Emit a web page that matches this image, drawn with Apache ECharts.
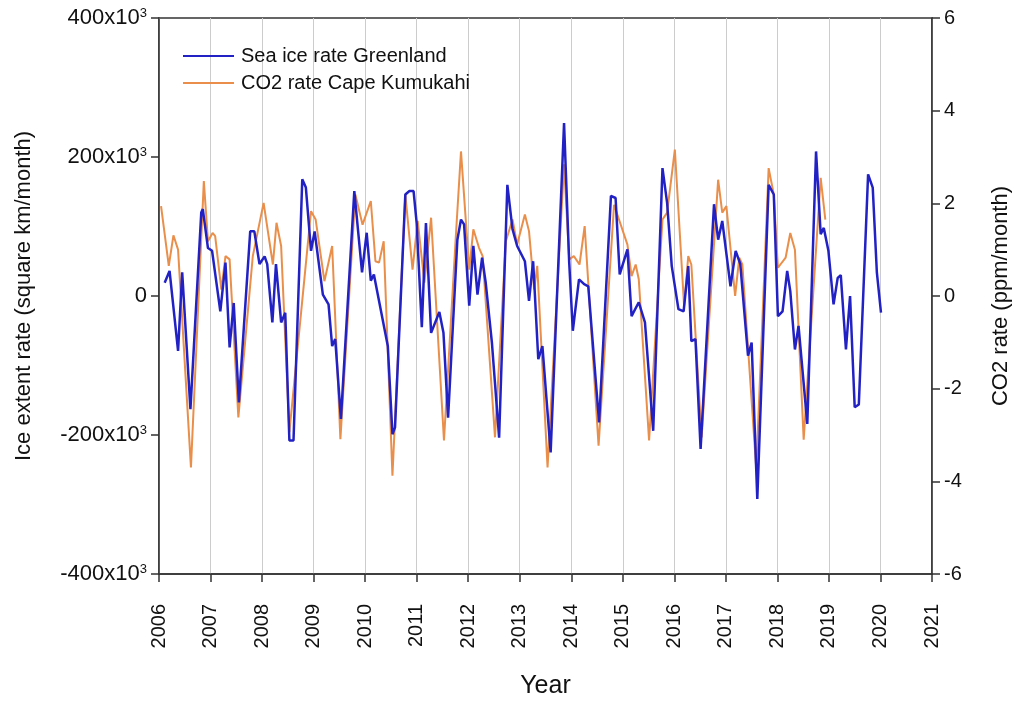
<!DOCTYPE html>
<html>
<head>
<meta charset="utf-8">
<title>Sea ice rate Greenland vs CO2 rate Cape Kumukahi</title>
<script src="https://cdn.jsdelivr.net/npm/echarts@6/dist/echarts.min.js"></script>
<style>
  html, body { margin: 0; padding: 0; background: #ffffff; }
  #chart { width: 1020px; height: 704px; }
</style>
</head>
<body>
<div id="chart"></div>
<script>
// Monthly rate of change, sea ice extent around Greenland (x10^3 square km / month)
const iceTime = [
  2006.11, 2006.205, 2006.37, 2006.45, 2006.61, 2006.82, 2006.85, 2006.95, 2007.03, 2007.19,
  2007.29, 2007.37, 2007.45, 2007.55, 2007.77, 2007.85, 2007.95, 2008.05, 2008.10, 2008.20,
  2008.27, 2008.37, 2008.45, 2008.53, 2008.61, 2008.78, 2008.85, 2008.95, 2009.02, 2009.18,
  2009.29, 2009.36, 2009.42, 2009.53, 2009.79, 2009.94, 2010.03, 2010.11, 2010.17, 2010.44,
  2010.53, 2010.58, 2010.78, 2010.86, 2010.94, 2011.00, 2011.10, 2011.18, 2011.28, 2011.44,
  2011.52, 2011.61, 2011.79, 2011.86, 2011.92, 2012.02, 2012.10, 2012.18, 2012.27, 2012.34,
  2012.46, 2012.60, 2012.76, 2012.86, 2012.95, 2013.10, 2013.18, 2013.26, 2013.36, 2013.44,
  2013.60, 2013.86, 2013.96, 2014.03, 2014.15, 2014.25, 2014.33, 2014.54, 2014.77, 2014.86,
  2014.94, 2015.09, 2015.17, 2015.31, 2015.43, 2015.59, 2015.77, 2015.86, 2015.95, 2016.08,
  2016.18, 2016.27, 2016.33, 2016.41, 2016.51, 2016.77, 2016.85, 2016.93, 2017.09, 2017.19,
  2017.28, 2017.43, 2017.50, 2017.61, 2017.83, 2017.93, 2018.01, 2018.10, 2018.19, 2018.25,
  2018.34, 2018.41, 2018.58, 2018.75, 2018.84, 2018.90, 2018.99, 2019.09, 2019.17, 2019.23,
  2019.33, 2019.41, 2019.50, 2019.58, 2019.76, 2019.85, 2019.93, 2020.01
];
const iceRate = [
  19, 36, -79, 34, -163, 120, 125, 69, 65, -22,
  48, -74, -10, -153, 93, 93, 46, 57, 46, -38,
  46, -38, -24, -208, -208, 168, 156, 65, 93, 2,
  -12, -72, -62, -177, 151, 34, 91, 22, 31, -72,
  -199, -189, 146, 151, 151, 105, -45, 105, -53, -23,
  -53, -175, 81, 110, 103, -14, 72, 2, 55, 19,
  -67, -204, 160, 96, 72, 50, -7, 50, -91, -72,
  -225, 249, 48, -50, 24, 17, 14, -182, 144, 141,
  31, 67, -29, -9, -38, -194, 184, 134, 43, -19,
  -22, 43, -65, -62, -220, 132, 81, 108, 14, 65,
  46, -86, -67, -292, 160, 146, -29, -22, 36, 7,
  -77, -43, -184, 208, 89, 98, 65, -12, 26, 30,
  -77, 0, -160, -156, 175, 156, 34, -24
];

// Monthly rate of change, atmospheric CO2 at Cape Kumukahi (ppm / month)
const co2Time = [
  2006.04, 2006.19, 2006.28, 2006.37, 2006.62, 2006.87, 2006.95, 2007.04, 2007.09, 2007.21,
  2007.29, 2007.37, 2007.54, 2007.82, 2008.03, 2008.21, 2008.28, 2008.37, 2008.53, 2008.95,
  2009.04, 2009.21, 2009.36, 2009.52, 2009.81, 2009.95, 2010.11, 2010.20, 2010.27, 2010.36,
  2010.53, 2010.78, 2010.92, 2011.02, 2011.15, 2011.28, 2011.53, 2011.76, 2011.86, 2012.02,
  2012.10, 2012.21, 2012.28, 2012.52, 2012.73, 2012.86, 2012.95, 2013.10, 2013.18, 2013.28,
  2013.34, 2013.54, 2013.86, 2013.96, 2014.05, 2014.16, 2014.26, 2014.53, 2014.83, 2015.09,
  2015.17, 2015.25, 2015.31, 2015.51, 2015.77, 2015.86, 2016.01, 2016.19, 2016.27, 2016.33,
  2016.53, 2016.85, 2016.93, 2017.01, 2017.18, 2017.26, 2017.32, 2017.59, 2017.83, 2017.93,
  2018.01, 2018.16, 2018.25, 2018.34, 2018.51, 2018.84, 2018.93
];
const co2Rate = [
  1.94, 0.65, 1.31, 1.00, -3.70, 2.48, 1.18, 1.36, 1.29, 0.14,
  0.86, 0.79, -2.62, 0.86, 2.01, 0.68, 1.58, 1.08, -2.94, 1.83,
  1.65, 0.32, 1.08, -3.09, 2.19, 1.54, 2.05, 0.75, 0.72, 1.18,
  -3.88, 2.19, 0.57, 1.62, 0.29, 1.69, -3.12, 1.29, 3.12, 0.57,
  1.44, 1.04, 0.86, -3.05, 1.18, 1.65, 1.11, 1.76, 1.40, 0.14,
  0.65, -3.70, 2.84, 0.79, 0.86, 0.68, 1.51, -3.23, 1.97, 1.11,
  0.43, 0.68, 0.36, -3.12, 1.65, 1.80, 3.16, -0.22, 0.86, 0.68,
  -3.05, 2.51, 1.80, 1.94, 0.00, 0.83, 0.68, -3.73, 2.76, 2.19,
  0.61, 0.83, 1.36, 1.00, -3.10, 2.55, 1.65
];

const seriesNames = ['Sea ice rate Greenland', 'CO2 rate Cape Kumukahi'];
const lineColors = ['#2222c4', '#e98f4b'];

const FONT = '"Liberation Sans", Arial, sans-serif';
const axisColor = '#333333';

const iceData = iceTime.map((t, i) => [t, iceRate[i]]);
const co2Data = co2Time.map((t, i) => [t, co2Rate[i]]);

const chart = echarts.init(document.getElementById('chart'), null, { renderer: 'canvas' });

chart.setOption({
  backgroundColor: '#ffffff',
  animation: false,
  textStyle: { fontFamily: FONT, color: '#111' },
  grid: {
    left: 159, right: 88, top: 18, bottom: 129,
    show: true, borderColor: axisColor, borderWidth: 1.5,
    backgroundColor: 'transparent'
  },
  legend: {
    left: 178, top: 41,
    orient: 'vertical',
    itemWidth: 51, itemHeight: 14, itemGap: 7,
    icon: 'path://M0,6 L51,6 L51,8 L0,8 Z',
    textStyle: { fontFamily: FONT, fontSize: 20, color: '#111', padding: [0, 0, 0, 2], lineHeight: 20 },
    data: seriesNames
  },
  xAxis: {
    type: 'value',
    min: 2006, max: 2021, interval: 1,
    name: 'Year',
    nameLocation: 'middle',
    nameGap: 100,
    nameTextStyle: { fontFamily: FONT, fontSize: 25, color: '#111' },
    axisLine: { show: true, onZero: false, lineStyle: { color: axisColor, width: 1.5 } },
    axisTick: { show: true, inside: false, length: 8, lineStyle: { color: axisColor, width: 1.5 } },
    axisLabel: {
      rotate: 90, margin: 30, fontSize: 20, color: '#111', fontFamily: FONT,
      formatter: v => String(v)
    },
    splitLine: { show: true, lineStyle: { color: '#cccccc', width: 1 } }
  },
  yAxis: [
    {
      type: 'value',
      min: -400, max: 400, interval: 200,
      name: 'Ice extent rate (square km/month)',
      nameLocation: 'middle',
      nameRotate: 90,
      nameGap: 124,
      nameTextStyle: { fontFamily: FONT, fontSize: 22, color: '#111' },
      axisLine: { show: true, onZero: false, lineStyle: { color: axisColor, width: 1.5 } },
      axisTick: { show: true, inside: false, length: 8, lineStyle: { color: axisColor, width: 1.5 } },
      axisLabel: {
        margin: 12, fontSize: 22, color: '#111', fontFamily: FONT,
        formatter: v => (v === 0 ? '0' : v + 'x10{sup|3}'),
        rich: {
          sup: { fontSize: 13, fontFamily: FONT, color: '#111', padding: [0, 0, 10, 0] }
        }
      },
      splitLine: { show: false }
    },
    {
      type: 'value',
      min: -6, max: 6, interval: 2,
      name: 'CO2 rate (ppm/month)',
      nameLocation: 'middle',
      nameRotate: 90,
      nameGap: 58,
      nameTextStyle: { fontFamily: FONT, fontSize: 22, color: '#111' },
      axisLine: { show: true, onZero: false, lineStyle: { color: axisColor, width: 1.5 } },
      axisTick: { show: true, inside: false, length: 8, lineStyle: { color: axisColor, width: 1.5 } },
      axisLabel: { margin: 12, fontSize: 20, color: '#111', fontFamily: FONT },
      splitLine: { show: false }
    }
  ],
  series: [
    {
      name: seriesNames[1],
      type: 'line',
      yAxisIndex: 1,
      data: co2Data,
      symbol: 'none',
      showSymbol: false,
      z: 2,
      lineStyle: { color: lineColors[1], width: 2 },
      itemStyle: { color: lineColors[1] }
    },
    {
      name: seriesNames[0],
      type: 'line',
      yAxisIndex: 0,
      data: iceData,
      symbol: 'none',
      showSymbol: false,
      z: 3,
      lineStyle: { color: lineColors[0], width: 2.5 },
      itemStyle: { color: lineColors[0] }
    }
  ]
});
</script>
</body>
</html>
